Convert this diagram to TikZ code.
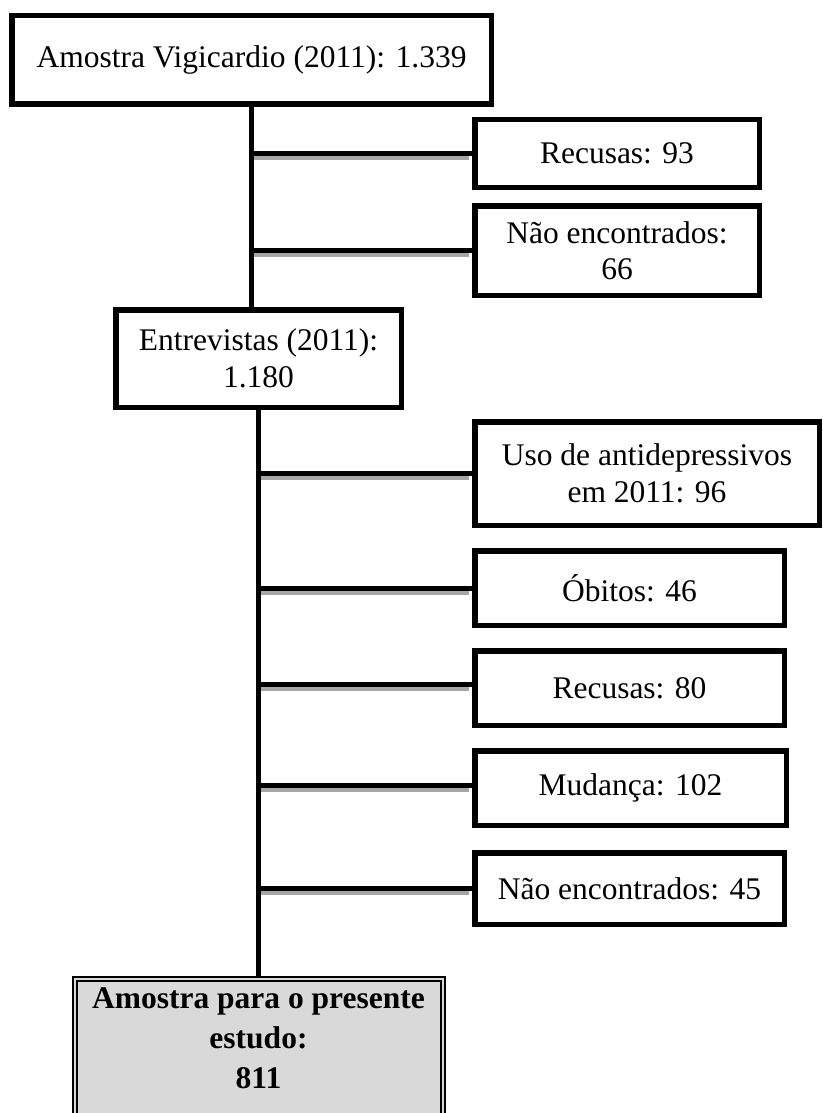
\documentclass[tikz,border=0pt]{standalone}
\usepackage{fontspec}
\setmainfont{Liberation Serif}
\definecolor{shadegray}{HTML}{A6A6A6}
\definecolor{samplegray}{HTML}{D9D9D9}

\begin{document}
\begin{tikzpicture}[x=1pt,y=-1pt]
\tikzstyle{every node}+=[inner sep=0pt, align=center, font=\fontsize{31.5}{36.5}\selectfont]
\tikzstyle{box}=[draw=black, line width=5.5pt]
\tikzstyle{samplebox}=[draw=black, line width=2pt, double=samplegray, double distance=2pt, fill=samplegray,
  font=\fontsize{31.5}{35}\selectfont\bfseries, minimum width=368pt, inner ysep=9pt]
\tikzstyle{branch}=[black, line width=5pt]
\tikzstyle{branchshadow}=[shadegray, line width=4.6pt, shorten >=2.75pt, transform canvas={yshift=-4.6pt}]
\tikzstyle{trunk}=[black, line width=5pt]
\useasboundingbox (0,0) rectangle (822,1113);
% boxes
\node [box, minimum width=479.5pt, minimum height=88.5pt] (vig) at (251.5,60) {Amostra Vigicardio (2011): 1.339};
\node [box, minimum width=284.5pt, minimum height=67.5pt] (rec1) at (617,153.5) {Recusas: 93};
\node [box, minimum width=284.5pt, minimum height=89.5pt] (nenc1) at (617,250.5) {N\~ao encontrados:\\ 66};
\node [box, minimum width=285.5pt, minimum height=97.5pt] (entr) at (258.5,358.5) {Entrevistas (2011):\\ 1.180};
\node [box, minimum width=344.5pt, minimum height=103.5pt] (antid) at (647,473.5) {Uso de antidepressivos\\ em 2011: 96};
\node [box, minimum width=309.5pt, minimum height=74.5pt] (obit) at (629.5,588) {Óbitos: 46};
\node [box, minimum width=309.5pt, minimum height=74.5pt] (rec2) at (629.5,688) {Recusas: 80};
\node [box, minimum width=311.5pt, minimum height=74.5pt] (mud) at (630.5,788) {Mudança: 102};
\node [box, minimum width=309.5pt, minimum height=71.5pt] (nenc2) at (629.5,888.5) {N\~ao encontrados: 45};
\node [samplebox, anchor=north] (smp) at (258.5,978)
  {Amostra para o presente\\[5pt] estudo:\\[5pt] 811\rule[-45pt]{0pt}{45pt}};
% branch ends off centre
\coordinate (r2) at ([yshift=4pt]rec2.west);
\coordinate (md) at ([yshift=3pt]mud.west);
% branches
\draw [branchshadow] (vig.south |- rec1.west) -- (rec1.west);
\draw [branch] (vig.south |- rec1.west) -- (rec1.west);
\draw [branchshadow] (vig.south |- nenc1.west) -- (nenc1.west);
\draw [branch] (vig.south |- nenc1.west) -- (nenc1.west);
\draw [branchshadow] (entr.south |- antid.west) -- (antid.west);
\draw [branch] (entr.south |- antid.west) -- (antid.west);
\draw [branchshadow] (entr.south |- obit.west) -- (obit.west);
\draw [branch] (entr.south |- obit.west) -- (obit.west);
\draw [branchshadow] (entr.south |- r2) -- (r2);
\draw [branch] (entr.south |- r2) -- (r2);
\draw [branchshadow] (entr.south |- md) -- (md);
\draw [branch] (entr.south |- md) -- (md);
\draw [branchshadow] (entr.south |- nenc2.west) -- (nenc2.west);
\draw [branch] (entr.south |- nenc2.west) -- (nenc2.west);
% trunks
\draw [trunk] (vig.south) -- (vig.south |- entr.north);
\draw [trunk] (entr.south) -- (smp.north);
\end{tikzpicture}
\end{document}
